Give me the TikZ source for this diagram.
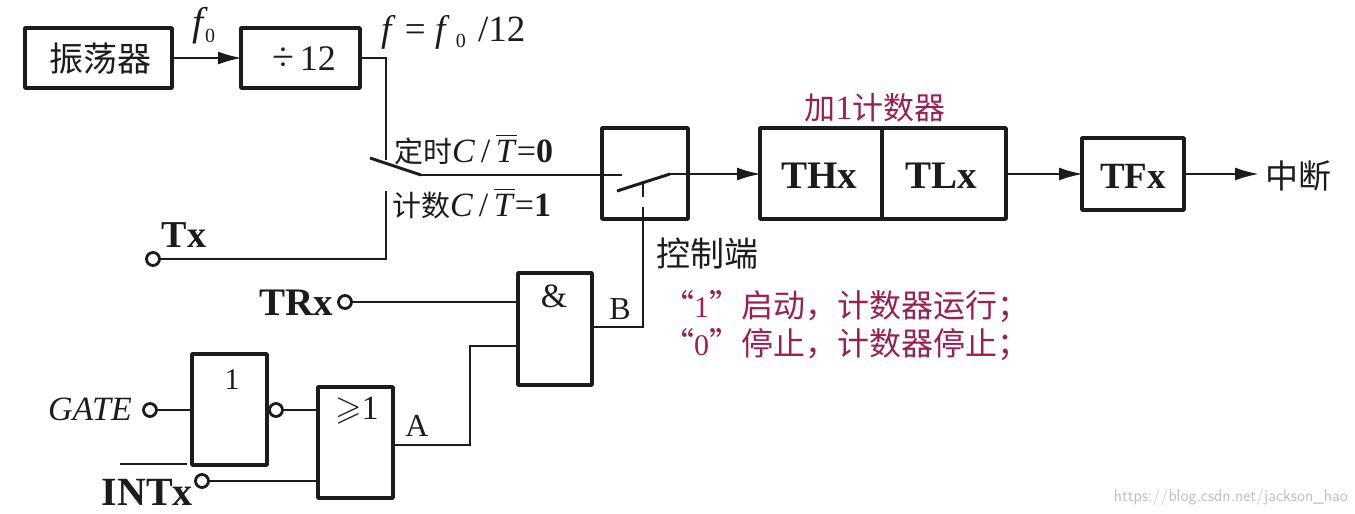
\documentclass[tikz,border=0pt]{standalone}
\usepackage{amssymb}
\usepackage{fontspec}
\setmainfont{Liberation Serif}
\newfontfamily\cjk{Noto Sans CJK SC}
\usetikzlibrary{arrows.meta}
\definecolor{wine}{HTML}{9A1F55}
\definecolor{ink}{HTML}{1C1C1C}
\tikzset{
  x=1pt,y=-1pt,
  blockbox/.style={draw=ink,line width=3.6pt,inner sep=0pt,outer sep=0pt,anchor=north west,line join=round},
  wire/.style={draw=ink,line width=2.4pt,line join=miter},
  flow/.style={wire,-{Latex[length=24pt,width=13pt]},shorten >=-1pt},
  pin/.style={circle,draw=ink,line width=2.8pt,fill=white,minimum size=13pt,inner sep=0pt,outer sep=0pt},
  lab/.style={text=ink,inner sep=0pt},
  red/.style={text=wine,inner sep=0pt},
}
\newcommand{\fs}[1]{\fontsize{#1}{#1}\selectfont}
\newcommand{\ctbar}{\textit{C}\,/\,$\overline{\mbox{\textit{T}}}$=}
\begin{document}
\begin{tikzpicture}
\useasboundingbox (0,0) rectangle (1355,514);
% blocks
\node[blockbox,minimum width=147pt,minimum height=60pt] (osc) at (25,28) {};
\node[lab,font=\cjk\fs{34}] at (100,59) {振荡器};
\node[blockbox,minimum width=119pt,minimum height=60pt] (div) at (241,28) {};
\node[lab,font=\fs{36}] at (304,59) {{\fs{40}÷}\,12};
\node[blockbox,minimum width=86pt,minimum height=91pt] (sw) at (602,128) {};
\node[blockbox,minimum width=122pt,minimum height=91pt] (thx) at (760,128) {};
\node[blockbox,minimum width=124pt,minimum height=91pt] (tlx) at (882,128) {};
\node[blockbox,minimum width=102pt,minimum height=72pt] (tfx) at (1082,138) {};
\node[lab,font=\bfseries\fs{39}] at (819,176) {THx};
\node[lab,font=\bfseries\fs{39}] at (941,176) {TLx};
\node[lab,font=\bfseries\fs{37}] at (1133,176) {TFx};
\node[blockbox,minimum width=74pt,minimum height=112pt] (and) at (518,273) {};
\node[blockbox,minimum width=75pt,minimum height=111pt] (inv) at (192,354) {};
\node[blockbox,minimum width=75pt,minimum height=111pt] (or) at (318,387) {};
% pins
\node[pin] (ptx) at (153,259) {};
\node[pin] (ptr) at (345,302) {};
\node[pin] (pgate) at (150,410) {};
\node[pin] (pnot) at (276,410) {};
\node[pin] (pint) at (202,481) {};
% junction coordinates
\coordinate (a) at (386,58);
\coordinate (b) at (386,160);
\coordinate (c) at (386,191);
\coordinate (d) at (386,259);
\coordinate (s1) at (370,158);
\coordinate (s2) at (421,175);
\coordinate (s3) at (622,175);
\coordinate (k1) at (617,191);
\coordinate (k2) at (670,174);
\coordinate (ctl1) at (643,207);
\coordinate (ctl2) at (643,327);
\coordinate (d1) at (643,183);
\coordinate (d2) at (643,197);
\coordinate (g1) at (470,445);
\coordinate (g2) at (470,346);
\coordinate (ovl) at (120,464);
\coordinate (ovr) at (187,464);
\coordinate (end) at (1258,174);
% connectors
\draw[flow] (osc.east) -- (div.west);
\draw[wire] (div.east) -- (a) -- (b);
\draw[wire,line width=3pt] (s1) -- (s2);
\draw[wire] (s2) -- (s3);
\draw[wire] (ptx) -- (d) -- (c);
\draw[wire,line width=3pt] (k1) -- (k2);
\draw[flow] (k2) -- (thx.west |- k2);
\draw[flow] (tlx.east |- k2) -- (tfx.west |- k2);
\draw[flow] (tfx.east |- k2) -- (end);
\draw[wire] (d1) -- (d2);
\draw[wire] (ctl1) -- (ctl2) -- (and.east |- ctl2);
\draw[wire] (ptr) -- (and.west |- ptr);
\draw[wire] (pgate) -- (inv.west |- pgate);
\draw[wire] (pnot) -- (or.west |- pnot);
\draw[wire] (pint) -- (or.west |- pint);
\draw[wire] (or.east |- g1) -- (g1) -- (g2) -- (and.west |- g2);
\draw[draw=ink,line width=2pt] (ovl) -- (ovr);
% labels
\node[lab,font=\fs{40}\itshape] at (198,26) {f};
\node[lab,font=\fs{20}] at (210,36) {0};
\node[lab,font=\fs{37},anchor=west] at (381,32) {\textit{f} = \textit{f}\,\raisebox{-6pt}{\fs{20}0}\,\,/12};
\node[lab,anchor=west,font=\fs{34}] (lt0) at (394,149) {{\cjk\fs{29}定时}\ctbar\textbf{0}};
\node[lab,anchor=west,font=\fs{34}] (lt1) at (392,203) {{\cjk\fs{29}计数}\ctbar\textbf{1}};
\node[lab,font=\bfseries\fs{38}] at (184,235) {Tx};
\node[lab,font=\bfseries\fs{39},anchor=east] at (333,303) {TRx};
\node[lab,font=\itshape\fs{34},anchor=east] at (132,409) {GATE};
\node[lab,font=\bfseries\fs{40},anchor=east] at (193,492) {INTx};
\node[lab,font=\fs{30}] at (232,380) {1};
\node[lab,font=\fs{34}] at (357,411) {$\geqslant$1};
\node[lab,font=\fs{34}] at (554,296) {\&};
\node[lab,font=\fs{32}] at (620,309) {B};
\node[lab,font=\fs{32}] at (417,426) {A};
\node[lab,font=\cjk\fs{34},anchor=west] at (656,254) {控制端};
\node[lab,font=\cjk\fs{33},anchor=west] at (1265,176) {中断};
\node[red,font=\fs{34}] at (875,108) {{\cjk\fs{31}加}1{\cjk\fs{31}计数器}};
\node[red,font=\fs{30},anchor=west] at (662,307) {{\cjk\fs{32}“}1{\cjk\fs{32}”启动，计数器运行；}};
\node[red,font=\fs{30},anchor=west] at (662,345) {{\cjk\fs{32}“}0{\cjk\fs{32}”停止，计数器停止；}};
\node[text=gray!50,inner sep=0pt,anchor=east,font=\sffamily\fs{17}] at (1348,497) {https://blog.csdn.net/jackson\_hao};
\end{tikzpicture}
\end{document}
